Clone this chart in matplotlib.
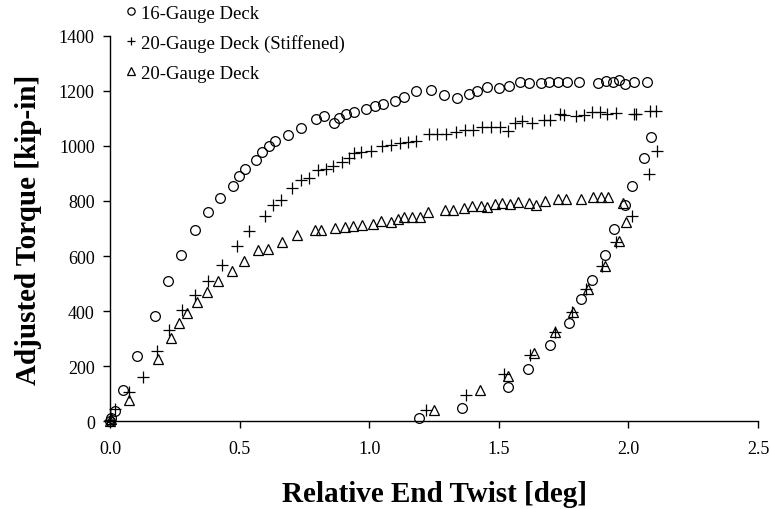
# Torque vs. end twist for the three deck specimens
# loading branch followed by unloading branch for each

import matplotlib
matplotlib.use('Agg')
import matplotlib.pyplot as plt

plt.rcParams['font.family'] = ['Liberation Serif', 'DejaVu Serif']

## data (twist in deg, torque in kip-in)

twist16 = [0.0, 0.004, 0.019, 0.05, 0.104, 0.173, 0.223, 0.273, 0.327, 0.377,
           0.423, 0.473, 0.496, 0.519, 0.565, 0.588, 0.615, 0.638, 0.685, 0.735,
           0.796, 0.827, 0.865, 0.885, 0.912, 0.942, 0.988, 1.023, 1.054, 1.1,
           1.135, 1.181, 1.238, 1.288, 1.338, 1.385, 1.415, 1.454, 1.5, 1.538,
           1.581, 1.615, 1.662, 1.692, 1.727, 1.765, 1.808, 1.881, 1.912, 1.942,
           1.962, 1.988, 2.023, 2.073,
           2.088, 2.062, 2.015, 1.988, 1.946, 1.908, 1.858, 1.819, 1.769, 1.696,
           1.612, 1.535, 1.358, 1.192]
torque16 = [0, 12, 36, 113, 236, 382, 509, 604, 695, 760,
            811, 855, 891, 916, 949, 978, 1000, 1018, 1040, 1065,
            1098, 1109, 1084, 1102, 1116, 1124, 1135, 1145, 1153, 1164,
            1178, 1200, 1204, 1185, 1175, 1189, 1200, 1215, 1211, 1218,
            1233, 1229, 1229, 1233, 1233, 1233, 1233, 1229, 1236, 1233,
            1240, 1224, 1233, 1233,
            1033, 956, 855, 785, 698, 604, 513, 444, 356, 276,
            189, 124, 47, 11]

twist20s = [0.0, 0.019, 0.073, 0.127, 0.181, 0.227, 0.277, 0.327, 0.377, 0.431,
            0.488, 0.538, 0.596, 0.627, 0.658, 0.704, 0.735, 0.769, 0.804, 0.835,
            0.862, 0.896, 0.923, 0.942, 0.969, 1.008, 1.05, 1.085, 1.119, 1.15,
            1.181, 1.231, 1.262, 1.296, 1.335, 1.369, 1.4, 1.435, 1.469, 1.504,
            1.535, 1.562, 1.588, 1.627, 1.673, 1.696, 1.735, 1.75, 1.796, 1.827,
            1.858, 1.892, 1.919, 1.954, 2.023, 2.031, 2.085, 2.108,
            2.112, 2.08, 2.012, 1.954, 1.9, 1.838, 1.781, 1.715, 1.619, 1.519,
            1.373, 1.219]
torque20s = [3, 44, 105, 160, 255, 331, 404, 458, 509, 567,
             636, 691, 745, 785, 804, 847, 876, 884, 913, 916,
             927, 942, 956, 975, 978, 982, 1000, 1004, 1011, 1015,
             1018, 1044, 1044, 1044, 1051, 1058, 1058, 1069, 1069, 1069,
             1055, 1084, 1091, 1084, 1095, 1095, 1116, 1113, 1109, 1113,
             1124, 1124, 1116, 1120, 1116, 1116, 1127, 1127,
             982, 898, 745, 651, 564, 480, 396, 324, 240, 171,
             95, 40]

twist20 = [0.0, 0.004, 0.073, 0.185, 0.235, 0.265, 0.296, 0.335, 0.373, 0.415,
           0.469, 0.515, 0.569, 0.608, 0.662, 0.723, 0.792, 0.815, 0.869, 0.908,
           0.938, 0.973, 1.015, 1.046, 1.085, 1.112, 1.135, 1.165, 1.196, 1.227,
           1.292, 1.323, 1.365, 1.396, 1.431, 1.454, 1.485, 1.512, 1.542, 1.573,
           1.615, 1.642, 1.677, 1.727, 1.758, 1.819, 1.862, 1.896, 1.923, 1.981,
           1.992, 1.965, 1.908, 1.846, 1.785, 1.715, 1.635, 1.535, 1.427, 1.25]
torque20 = [0, 8, 76, 225, 302, 356, 393, 433, 469, 509,
            545, 582, 622, 625, 651, 676, 695, 695, 702, 705,
            709, 713, 716, 727, 724, 735, 742, 742, 742, 760,
            767, 767, 775, 782, 782, 778, 789, 793, 789, 796,
            793, 785, 800, 807, 807, 807, 815, 815, 815, 793,
            724, 655, 564, 480, 396, 324, 247, 164, 113, 40]

labels = ['16-Gauge Deck', '20-Gauge Deck (Stiffened)', '20-Gauge Deck']

## figure

fig = plt.figure(figsize=(7.7, 5.1), dpi=100)
ax = fig.add_axes([0.1429, 0.1725, 0.8415, 0.755])

mk = dict(linestyle='none', color='black', markerfacecolor='none',
          markeredgewidth=0.9, clip_on=False)
ax.plot(twist16, torque16, marker='o', markersize=7, label=labels[0], **mk)
ax.plot(twist20s, torque20s, marker='+', markersize=8, label=labels[1], **mk)
ax.plot(twist20, torque20, marker='^', markersize=7, label=labels[2], **mk)

ax.set_xlim(0, 2.5)
ax.set_ylim(0, 1400)
ax.set_xticks([0.0, 0.5, 1.0, 1.5, 2.0, 2.5])
ax.set_xticklabels(['0.0', '0.5', '1.0', '1.5', '2.0', '2.5'])
ax.set_yticks(range(0, 1401, 200))

for s in ['top', 'right']:
    ax.spines[s].set_visible(False)
for s in ['left', 'bottom']:
    ax.spines[s].set_linewidth(1.0)
ax.tick_params(direction='out', length=5, width=1.0, labelsize=13)
ax.tick_params(axis='x', pad=9)
ax.tick_params(axis='y', pad=6)

ax.set_xlabel('Relative End Twist [deg]', fontsize=21, fontweight='bold', labelpad=16)
ax.set_ylabel('Adjusted Torque [kip-in]', fontsize=21, fontweight='bold', labelpad=12)

fig.legend(loc='upper left', bbox_to_anchor=(0.163, 0.989), frameon=False,
           fontsize=13.5, handlelength=0.6, handletextpad=0.2, labelspacing=0.66,
           markerscale=0.75, borderpad=0, borderaxespad=0)

fig.savefig('out.png', dpi=100)
